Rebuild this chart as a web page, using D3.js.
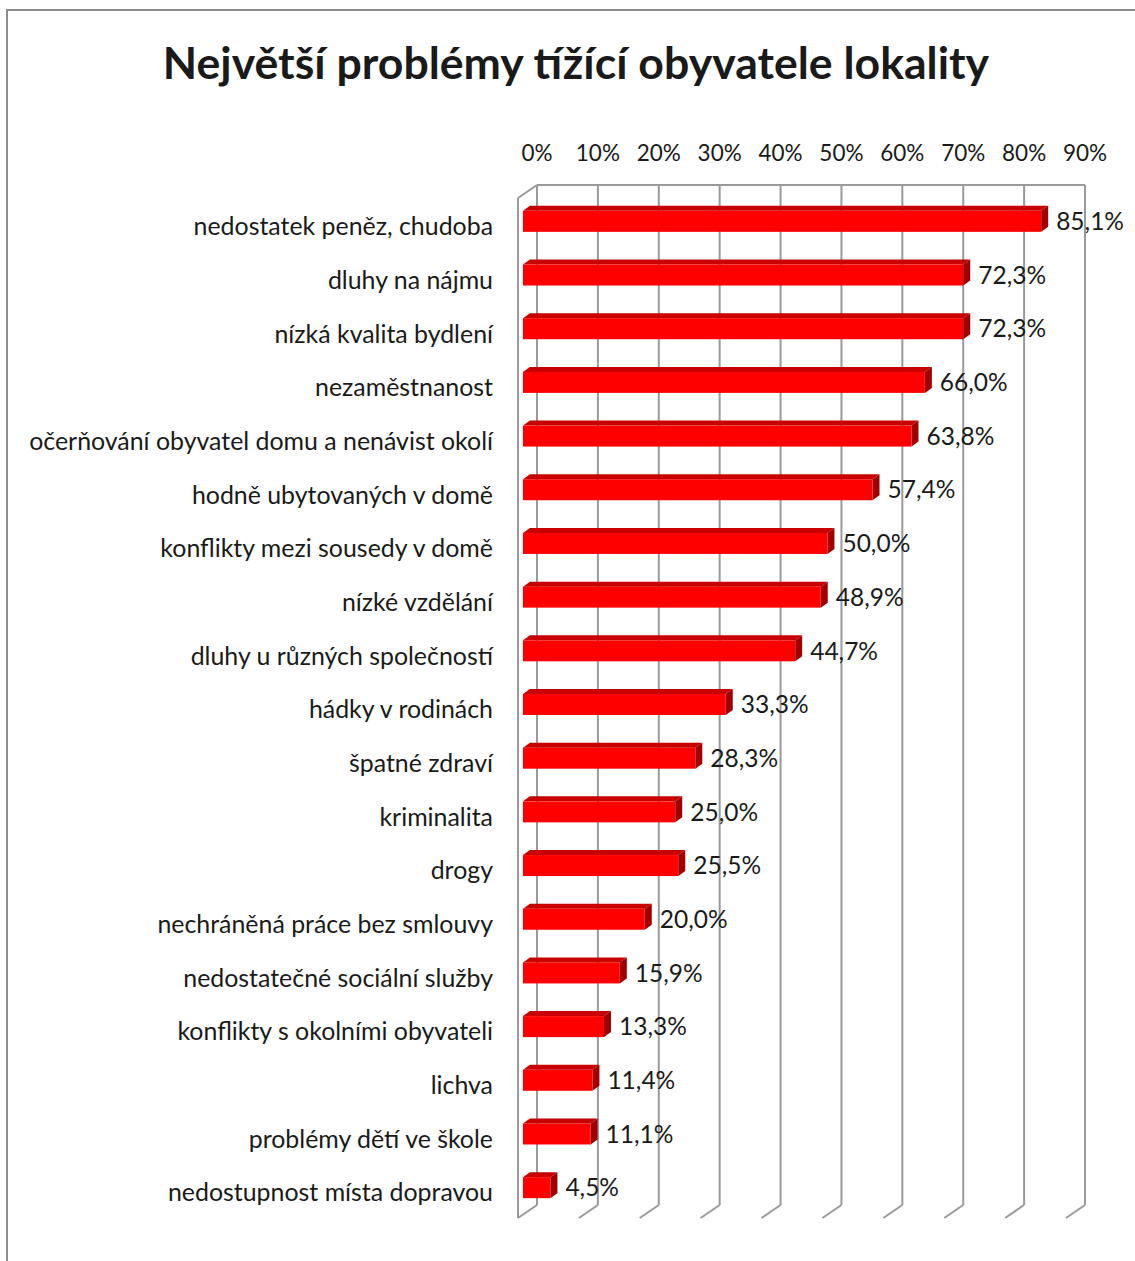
<!DOCTYPE html>
<html>
<head>
<meta charset="utf-8">
<script src="https://cdn.jsdelivr.net/npm/d3@7"></script>
<style>
  html, body { margin: 0; padding: 0; background: #fff; }
  svg { display: block; }
  text { font-family: Lato, "Open Sans", sans-serif; fill: #1a1a1a; }
</style>
</head>
<body>
<svg id="chart" width="1135" height="1261"></svg>
<script>
const title = "Největší problémy tížící obyvatele lokality";
const categories = [
  "nedostatek peněz, chudoba",
  "dluhy na nájmu",
  "nízká kvalita bydlení",
  "nezaměstnanost",
  "očerňování obyvatel domu a nenávist okolí",
  "hodně ubytovaných v domě",
  "konflikty mezi sousedy v domě",
  "nízké vzdělání",
  "dluhy u různých společností",
  "hádky v rodinách",
  "špatné zdraví",
  "kriminalita",
  "drogy",
  "nechráněná práce bez smlouvy",
  "nedostatečné sociální služby",
  "konflikty s okolními obyvateli",
  "lichva",
  "problémy dětí ve škole",
  "nedostupnost místa dopravou"
];
const values = [85.1, 72.3, 72.3, 66.0, 63.8, 57.4, 50.0, 48.9, 44.7, 33.3, 28.3, 25.0, 25.5, 20.0, 15.9, 13.3, 11.4, 11.1, 4.5];
const ticks = [0, 10, 20, 30, 40, 50, 60, 70, 80, 90];
const tickLabels = ticks.map(t => t + "%");

const svg = d3.select("#chart");
const fmt = v => v.toFixed(1).replace(".", ",") + "%";

// outer frame
svg.append("rect").attr("x", 7).attr("y", 10).attr("width", 1140).attr("height", 1270)
  .attr("fill", "none").attr("stroke", "#8c8c8c").attr("stroke-width", 2);

// title
svg.append("text").attr("x", 576).attr("y", 79).attr("text-anchor", "middle")
  .attr("font-weight", "bold").attr("font-size", 44.6).text(title);

// 3D geometry
const frontX0 = 518, depthDX = 19, depthDY = -13;
const wallTop = 198, wallBottom = 1218;
const x = d3.scaleLinear().domain([0, 90]).range([frontX0, frontX0 + 548]);
const y = d3.scaleBand().domain(categories).range([wallTop, wallBottom]).padding(0);

const grid = svg.append("g").attr("stroke", "#9a9a9a").attr("stroke-width", 2).attr("fill", "none");
ticks.forEach(t => {
  grid.append("line")
    .attr("x1", x(t) + depthDX).attr("x2", x(t) + depthDX)
    .attr("y1", wallTop + depthDY).attr("y2", wallBottom + depthDY);
  grid.append("line")
    .attr("x1", x(t)).attr("y1", wallBottom)
    .attr("x2", x(t) + depthDX).attr("y2", wallBottom + depthDY);
});
grid.append("line").attr("x1", x(0) + depthDX).attr("x2", x(90) + depthDX)
  .attr("y1", wallTop + depthDY).attr("y2", wallTop + depthDY);
grid.append("line").attr("x1", x(0)).attr("x2", x(0)).attr("y1", wallTop).attr("y2", wallBottom);
grid.append("line").attr("x1", x(0)).attr("y1", wallTop).attr("x2", x(0) + depthDX).attr("y2", wallTop + depthDY);

// tick labels
svg.append("g").selectAll("text").data(ticks).join("text")
  .attr("x", t => x(t) + depthDX).attr("y", 161)
  .attr("text-anchor", "middle").attr("font-size", 22.5)
  .text((t, i) => tickLabels[i]);

// bars
const barOffX = 5, barOffY = -3.5, barH = 21, bdx = 7, bdy = -5;
const bars = svg.append("g");
categories.forEach((c, i) => {
  const v = values[i];
  const x0 = x(0) + barOffX, x1 = x(v) + barOffX;
  const yc = y(c) + y.bandwidth() / 2 + barOffY;
  const y0 = yc - barH / 2, y1 = yc + barH / 2;
  bars.append("path")
    .attr("d", `M${x0},${y0} L${x0 + bdx},${y0 + bdy} L${x1 + bdx},${y0 + bdy} L${x1},${y0} Z`)
    .attr("fill", "#c80000");
  bars.append("path")
    .attr("d", `M${x1},${y0} L${x1 + bdx},${y0 + bdy} L${x1 + bdx},${y1 + bdy} L${x1},${y1} Z`)
    .attr("fill", "#a00000");
  bars.append("rect").attr("x", x0).attr("y", y0).attr("width", x1 - x0).attr("height", barH)
    .attr("fill", "#ff0000");
  bars.append("text").attr("x", x1 + bdx + 8).attr("y", yc + 2.5)
    .attr("dominant-baseline", "middle").attr("font-size", 24.5).text(fmt(v));
});

// category labels
svg.append("g").selectAll("text").data(categories).join("text")
  .attr("x", 493).attr("y", c => y(c) + y.bandwidth() / 2 + 4)
  .attr("text-anchor", "end").attr("dominant-baseline", "middle")
  .attr("font-size", 24.9).text(c => c);
</script>
</body>
</html>
